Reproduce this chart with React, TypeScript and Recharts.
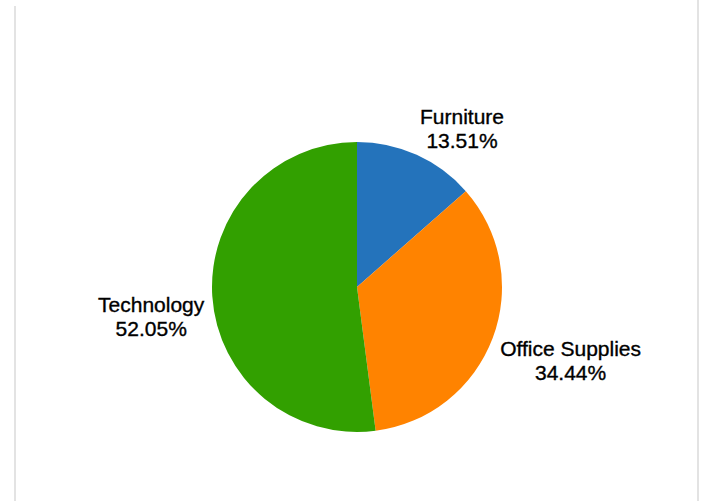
import React from "react";
import { PieChart, Pie, Cell } from "recharts";

// Share of sales by category (%)
const categories = ["Furniture", "Office Supplies", "Technology"];
const shares = [13.51, 34.44, 52.05];
const sliceColors = ["#2473bb", "#ff8300", "#32a000"];

const data = categories.map((name, i) => ({ name, value: shares[i] }));

const FONT_SIZE = 21;
const FONT_FAMILY = "'Liberation Sans', Arial, sans-serif";
const CAP_HEIGHT = 15;
const LINE_GAP = 24;
const RADIAN = Math.PI / 180;

const measure = (() => {
  let ctx: CanvasRenderingContext2D | null = null;
  return (text: string) => {
    if (!ctx) {
      ctx = document.createElement("canvas").getContext("2d");
      if (ctx) ctx.font = `${FONT_SIZE}px ${FONT_FAMILY}`;
    }
    return ctx ? ctx.measureText(text).width : text.length * FONT_SIZE * 0.55;
  };
})();

// label box sits with its nearest corner on a ring just outside the pie
const renderLabel = (props: any) => {
  const { cx, cy, midAngle, outerRadius, name, value } = props;
  const r = outerRadius + 8;
  const px = cx + r * Math.cos(-midAngle * RADIAN);
  const py = cy + r * Math.sin(-midAngle * RADIAN);
  const pct = `${Number(value).toFixed(2)}%`;
  const w = Math.max(measure(name), measure(pct));
  const h = CAP_HEIGHT + LINE_GAP;
  const left = Math.cos(-midAngle * RADIAN) >= 0 ? px : px - w;
  const top = Math.sin(-midAngle * RADIAN) < 0 ? py - h : py;
  const x = left + w / 2;
  const y1 = top + CAP_HEIGHT;
  return (
    <text
      x={x}
      y={y1}
      textAnchor="middle"
      fill="#000000"
      stroke="#000000"
      strokeWidth={0.35}
      fontSize={FONT_SIZE}
      fontFamily={FONT_FAMILY}
    >
      <tspan x={x} y={y1}>{name}</tspan>
      <tspan x={x} y={y1 + LINE_GAP}>{pct}</tspan>
    </text>
  );
};

export default function App() {
  return (
    <div
      style={{
        position: "absolute",
        left: 0,
        top: 0,
        width: 705,
        height: 501,
        background: "#ffffff",
        overflow: "hidden",
      }}
    >
      <div style={{ position: "absolute", left: 14, top: 6, width: 2, bottom: 0, background: "#e3e3e3" }} />
      <div style={{ position: "absolute", left: 697, top: 0, width: 2, bottom: 0, background: "#e3e3e3" }} />
      <PieChart
        width={705}
        height={501}
        margin={{ top: 0, right: 0, bottom: 0, left: 0 }}
        style={{ position: "absolute", left: 0, top: 0 }}
      >
        <Pie
          data={data}
          dataKey="value"
          nameKey="name"
          cx={357}
          cy={287}
          outerRadius={145}
          startAngle={90}
          endAngle={-270}
          stroke="none"
          label={renderLabel}
          labelLine={false}
          isAnimationActive={false}
        >
          {data.map((entry, i) => (
            <Cell key={entry.name} fill={sliceColors[i]} />
          ))}
        </Pie>
      </PieChart>
    </div>
  );
}
